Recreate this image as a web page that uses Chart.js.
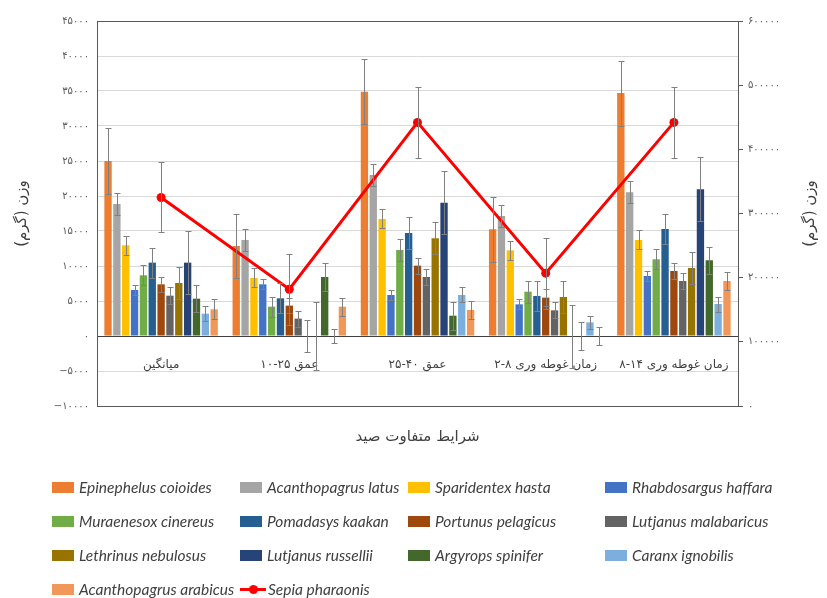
<!DOCTYPE html>
<html><head><meta charset="utf-8">
<script src="https://cdn.jsdelivr.net/npm/chart.js@4.4.0/dist/chart.umd.min.js"></script>
<style>
html,body{margin:0;padding:0;background:#fff;}
#wrap{position:relative;width:827px;height:598px;}
#legend{position:absolute;left:0;top:0;width:827px;height:598px;pointer-events:none;font-family:Lato,'Open Sans',sans-serif;font-style:italic;font-size:15.5px;color:#404040;}
.li{position:absolute;display:flex;align-items:center;white-space:nowrap;height:20px;}
.sw{display:inline-block;width:22px;height:11px;margin-right:5px;}
.ln{position:relative;display:inline-block;width:26px;height:11px;margin-right:2px;}
.ln:before{content:'';position:absolute;left:0;right:0;top:4px;height:3px;background:#ff0000;}
.ln:after{content:'';position:absolute;left:9px;top:1px;width:9px;height:9px;border-radius:50%;background:#ff0000;}
</style></head><body>
<div id="wrap"><canvas id="c" width="827" height="598"></canvas><div id="legend"></div></div>
<script>
// ---- data ----
const categories = ['میانگین', 'عمق ۲۵-۱۰', 'عمق ۴۰-۲۵', 'زمان غوطه وری ۸-۲', 'زمان غوطه وری ۱۴-۸'];
const seriesNames = ['Epinephelus coioides','Acanthopagrus latus','Sparidentex hasta','Rhabdosargus haffara',
  'Muraenesox cinereus','Pomadasys kaakan','Portunus pelagicus','Lutjanus malabaricus',
  'Lethrinus nebulosus','Lutjanus russellii','Argyrops spinifer','Caranx ignobilis','Acanthopagrus arabicus'];
const lineName = 'Sepia pharaonis';

const epinephelus = [25000, 12860, 34900, 15240, 34700];
const epinephelusErr = [4670, 4570, 4670, 4640, 4640];
const acLatus = [18860, 13720, 23000, 17150, 20530];
const acLatusErr = [1600, 1550, 1550, 1550, 1570];
const sparidentex = [12960, 8290, 16720, 12240, 13720];
const sparidentexErr = [1330, 1360, 1360, 1360, 1360];
const rhabdosargus = [6570, 7380, 5860, 4520, 8570];
const rhabdosargusErr = [710, 710, 710, 710, 740];
const muraenesox = [8670, 4190, 12290, 6330, 10960];
const muraenesoxErr = [1450, 1450, 1520, 1550, 1430];
const pomadasys = [10480, 5380, 14720, 5720, 15290];
const pomadasysErr = [2150, 2150, 2240, 2140, 2140];
const portunus = [7380, 4340, 10050, 5480, 9290];
const portunusErr = [1100, 1100, 1140, 1190, 1190];
const ljMalabaricus = [5760, 2480, 8430, 3670, 7860];
const ljMalabaricusErr = [1200, 1140, 1190, 1140, 1210];
const lethrinus = [7570, 0, 13960, 5570, 9720];
const lethrinusErr = [2330, 2290, 2290, 2330, 2310];
const ljRussellii = [10480, 0, 19050, 0, 20960];
const ljRusselliiErr = [4480, 4860, 4480, 4500, 4540];
const argyrops = [5330, 8430, 2900, 0, 10820];
const argyropsErr = [1950, 2040, 1980, 1950, 1960];
const caranx = [3190, 0, 5860, 1950, 4570];
const caranxErr = [1050, 1070, 1070, 970, 1070];
const acArabicus = [3810, 4190, 3720, 0, 7860];
const acArabicusErr = [1430, 1290, 1290, 1290, 1290];
const sepia = [325000, 182000, 442000, 207000, 442000];
const sepiaErr = [54500, 55000, 55500, 55500, 55500];

const leftTicksMin = -10000, leftTicksMax = 45000, leftStep = 5000;
const rightTicksMin = 0, rightTicksMax = 600000, rightStep = 100000;
const yTitle = 'وزن (گرم)';
const xTitle = 'شرایط متفاوت صید';

// ---- styling ----
const colors = ['#ED7D31','#A5A5A5','#FFC000','#4472C4','#70AD47','#255E91','#9E480E','#636363',
  '#997300','#264478','#43682B','#7CAFDD','#F1975A'];
const barValues = [epinephelus, acLatus, sparidentex, rhabdosargus, muraenesox, pomadasys, portunus,
  ljMalabaricus, lethrinus, ljRussellii, argyrops, caranx, acArabicus];
const barErrors = [epinephelusErr, acLatusErr, sparidentexErr, rhabdosargusErr, muraenesoxErr, pomadasysErr,
  portunusErr, ljMalabaricusErr, lethrinusErr, ljRusselliiErr, argyropsErr, caranxErr, acArabicusErr];

const faDigits = '۰۱۲۳۴۵۶۷۸۹';
function toFa(n){ const s = String(Math.abs(n)).replace(/\d/g, d => faDigits[d]); return n < 0 ? '\u2212' + s : s; }
function rtl(s){ return '\u202B' + s + '\u202C'; }

const datasets = barValues.map((vals, i) => ({
  type: 'bar', label: seriesNames[i], data: vals, errors: barErrors[i],
  backgroundColor: colors[i], borderWidth: 0, xAxisID: 'x', yAxisID: 'y', order: 1,
  categoryPercentage: 0.897, barPercentage: 0.83
}));
datasets.push({
  type: 'line', label: lineName, data: sepia, errors: sepiaErr, xAxisID: 'x', yAxisID: 'y1', order: 0,
  borderColor: '#FF0000', backgroundColor: '#FF0000', borderWidth: 3, pointRadius: 4.5,
  pointBackgroundColor: '#FF0000', pointBorderWidth: 0, tension: 0
});

const errorBars = {
  id: 'errorBars',
  afterDatasetsDraw(chart){
    const ctx = chart.ctx;
    ctx.save();
    ctx.strokeStyle = '#808080'; ctx.lineWidth = 1;
    chart.data.datasets.forEach((ds, i) => {
      const meta = chart.getDatasetMeta(i);
      const ys = chart.scales[ds.yAxisID];
      meta.data.forEach((el, j) => {
        const v = ds.data[j], e = ds.errors[j];
        const x = Math.round(el.x) + 0.5;
        const t = Math.round(ys.getPixelForValue(v + e)) + 0.5;
        const b = Math.round(ys.getPixelForValue(v - e)) + 0.5;
        ctx.beginPath();
        ctx.moveTo(x, t); ctx.lineTo(x, b);
        ctx.moveTo(x - 3, t); ctx.lineTo(x + 3, t);
        ctx.moveTo(x - 3, b); ctx.lineTo(x + 3, b);
        ctx.stroke();
      });
    });
    ctx.restore();
  }
};
const frame = {
  id: 'frame',
  beforeDatasetsDraw(chart){
    const a = chart.chartArea, ctx = chart.ctx;
    ctx.save(); ctx.strokeStyle = '#595959'; ctx.lineWidth = 1;
    ctx.strokeRect(Math.round(a.left) + 0.5, Math.round(a.top) + 0.5, Math.round(a.right - a.left), Math.round(a.bottom - a.top));
    ctx.restore();
  },
  afterDraw(chart){
    const a = chart.chartArea, ctx = chart.ctx;
    ctx.save();
    ctx.translate(810, (a.top + a.bottom) / 2);
    ctx.rotate(-Math.PI / 2);
    ctx.font = '15px "DejaVu Sans"'; ctx.fillStyle = '#404040';
    ctx.textAlign = 'center'; ctx.textBaseline = 'middle';
    ctx.fillText(rtl(yTitle), 0, 0);
    ctx.restore();
  }
};

Chart.defaults.font.family = '"DejaVu Sans", sans-serif';
Chart.defaults.color = '#595959';

new Chart(document.getElementById('c'), {
  data: { labels: categories, datasets },
  plugins: [frame, errorBars],
  options: {
    responsive: false, animation: false,
    layout: { padding: { top: 21, bottom: 152, left: 0, right: 0 } },
    plugins: { legend: { display: false }, tooltip: { enabled: false } },
    scales: {
      x: {
        type: 'category', axis: 'x', position: { y: 0 }, offset: true,
        grid: { display: false, drawTicks: false },
        border: { display: true, color: '#404040', width: 1 },
        ticks: { padding: 22, font: { size: 12 }, color: '#404040', maxRotation: 0, autoSkip: false,
          callback: function(v){ return rtl(this.getLabelForValue(v)); } }
      },
      x2: {
        type: 'category', axis: 'x', position: 'bottom', labels: categories, offset: true,
        grid: { display: false, drawTicks: false }, border: { display: false },
        ticks: { display: false },
        title: { display: true, text: rtl(xTitle), font: { size: 15 }, color: '#404040', padding: { top: 7, bottom: 0 } },
        afterFit(s){ s.height = 40; }
      },
      y: {
        type: 'linear', position: 'left', min: leftTicksMin, max: leftTicksMax,
        ticks: { stepSize: leftStep, padding: 8, font: { size: 10 }, color: '#595959', callback: v => toFa(v) },
        grid: { color: '#d9d9d9', drawTicks: false },
        border: { display: false },
        title: { display: true, text: rtl(yTitle), font: { size: 15 }, color: '#404040', padding: { top: 13, bottom: 0 } },
        afterFit(s){ s.width = 97; }
      },
      y1: {
        type: 'linear', position: 'right', min: rightTicksMin, max: rightTicksMax,
        ticks: { stepSize: rightStep, padding: 5, font: { size: 10 }, color: '#595959', callback: v => toFa(v) },
        grid: { drawOnChartArea: false, drawTicks: true, tickLength: 5, color: '#595959' },
        border: { display: false },
        afterFit(s){ s.width = 89; }
      }
    }
  }
});

// ---- HTML legend ----
const legendEl = document.getElementById('legend');
const colLeft = [52, 240, 408, 605];
const rowTop = [477, 511, 545, 579];
const items = seriesNames.map((n, i) => ({ name: n, color: colors[i] }));
items.push({ name: lineName, line: true });
items.forEach((it, k) => {
  const d = document.createElement('div');
  d.className = 'li';
  d.style.left = colLeft[k % 4] + 'px';
  d.style.top = rowTop[Math.floor(k / 4)] + 'px';
  const m = document.createElement('span');
  if (it.line) { m.className = 'ln'; } else { m.className = 'sw'; m.style.background = it.color; }
  d.appendChild(m);
  const t = document.createElement('span'); t.textContent = it.name;
  d.appendChild(t);
  legendEl.appendChild(d);
});
</script>
</body></html>
